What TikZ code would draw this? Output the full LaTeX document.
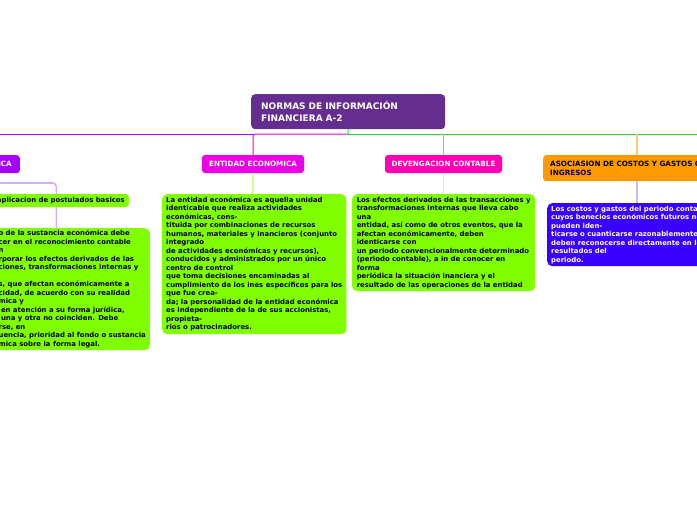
\documentclass[tikz,border=0pt]{standalone}
\usepackage{fontspec}
\setmainfont{DejaVu Sans}
\definecolor{rootc}{HTML}{662D91}
\definecolor{violc}{HTML}{A600FF}
\definecolor{entc}{HTML}{EC00E6}
\definecolor{devc}{HTML}{FF00B4}
\definecolor{asoc}{HTML}{FF9900}
\definecolor{grnl}{HTML}{22DD22}
\definecolor{pinkl}{HTML}{FF80DD}
\definecolor{orgl}{HTML}{FFCC80}
\definecolor{boxg}{HTML}{80FF00}
\definecolor{bluec}{HTML}{3A00FF}
\definecolor{lgrn}{HTML}{CCFF99}
\definecolor{lviol}{HTML}{C8B8FF}
\definecolor{lviol2}{HTML}{D6AAFF}
\begin{document}
\begin{tikzpicture}[x=1pt,y=-1pt,
  rootbox/.style={fill=rootc, rounded corners=4, text=white, font=\fontsize{9}{12}\selectfont\bfseries, align=left, text width=174, inner xsep=10, inner ysep=0, minimum height=35, anchor=north west},
  lvlone/.style={rounded corners=3, text=white, font=\fontsize{7.2}{9}\selectfont\bfseries, inner ysep=0, minimum height=18},
  txtbox/.style={fill=boxg, rounded corners=5, font=\fontsize{6.9}{8.5}\selectfont\bfseries, align=left, inner xsep=4, inner ysep=0},
  mainline/.style={line width=1},
  subline/.style={line width=1.6}
]
\useasboundingbox (0,0) rectangle (697,520);
\clip (0,0) rectangle (697,520);

% nodes
\node[rootbox] (root) at (251,94) {NORMAS DE INFORMACIÓN\\FINANCIERA A-2};
\node[lvlone, fill=violc, anchor=north east, inner xsep=8] (ica) at (20,155) {ICA};
\node[lvlone, fill=entc, minimum width=102] (ent) at (253,164) {ENTIDAD ECONOMICA};
\node[lvlone, fill=devc, minimum width=117] (dev) at (443.5,164) {DEVENGACION CONTABLE};
\node[lvlone, fill=asoc, text=black, align=left, anchor=north west, inner xsep=7, minimum height=26] (aso) at (543,155) {ASOCIASION DE COSTOS Y GASTOS CON\\INGRESOS};

\coordinate (J) at (348,134);
\coordinate (Lend) at (-5,134);
\coordinate (Rend) at (702,134);
\coordinate (lsrc) at (-20,183);

\node[txtbox, anchor=north west, minimum width=183, minimum height=140] (entbox) at (162,194) {La entidad económica es aquella unidad\\
identicable que realiza actividades\\
económicas, cons-\\
tituida por combinaciones de recursos\\
humanos, materiales y inancieros (conjunto\\
integrado\\
de actividades económicas y recursos),\\
conducidos y administrados por un único\\
centro de control\\
que toma decisiones encaminadas al\\
cumplimiento de los ines específicos para los\\
que fue crea-\\
da; la personalidad de la entidad económica\\
es independiente de la de sus accionistas,\\
propieta-\\
rios o patrocinadores.};

\node[txtbox, anchor=north west, minimum width=183, minimum height=97] (devbox) at (352,194) {Los efectos derivados de las transacciones y\\
transformaciones internas que lleva cabo\\
una\\
entidad, así como de otros eventos, que la\\
afectan económicamente, deben\\
identicarse con\\
un periodo convencionalmente determinado\\
(periodo contable), a in de conocer en\\
forma\\
periódica la situación inanciera y el\\
resultado de las operaciones de la entidad};

\node[txtbox, fill=bluec, text=white, anchor=north west, minimum height=63] (blue) at (547,203) {Los costos y gastos del periodo contable\\
cuyos benecios económicos futuros no\\
pueden iden-\\
ticarse o cuanticarse razonablemente,\\
deben reconocerse directamente en los\\
resultados del\\
periodo.};

\node[txtbox, anchor=north east, minimum width=153, minimum height=122] (lbox) at (150,228) {o de la sustancia económica debe\\
cer en el reconocimiento contable\\
n\\
rporar los efectos derivados de las\\
ciones, transformaciones internas y\\
\mbox{}\\
s, que afectan económicamente a\\
cidad, de acuerdo con su realidad\\
mica y\\
\ en atención a su forma jurídica,\\
\ una y otra no coinciden. Debe\\
rse, en\\
uencia, prioridad al fondo o sustancia\\
mica sobre la forma legal.};

% connectors
\draw[grnl, mainline] (root.south) -- (J);
\draw[violc, mainline] (ent.north |- J) -- (Lend);
\draw[entc, mainline, rounded corners=2] (J) -- (ent.north |- J) -- (ent.north);
\draw[grnl, mainline] (J) -- (Rend);
\draw[pinkl, subline] (dev.north |- J) -- (dev.north);
\draw[orgl, subline] ([xshift=94]aso.north west |- J) -- ([xshift=94]aso.north west);
\draw[lgrn, subline] (ent.south) -- (ent.south |- entbox.north);
\draw[lgrn, subline] (dev.south) -- (dev.south |- devbox.north);
\draw[lviol, subline] ([xshift=90]blue.north west |- aso.south) -- ([xshift=90]blue.north west);
\draw[lviol2, subline, rounded corners=4] (lsrc) -| ([xshift=62]lbox.north west);

\node[txtbox, rounded corners=3, anchor=east, minimum height=13] (apl) at (129,200.5) {aplicacion de postulados basicos};
\end{tikzpicture}
\end{document}
